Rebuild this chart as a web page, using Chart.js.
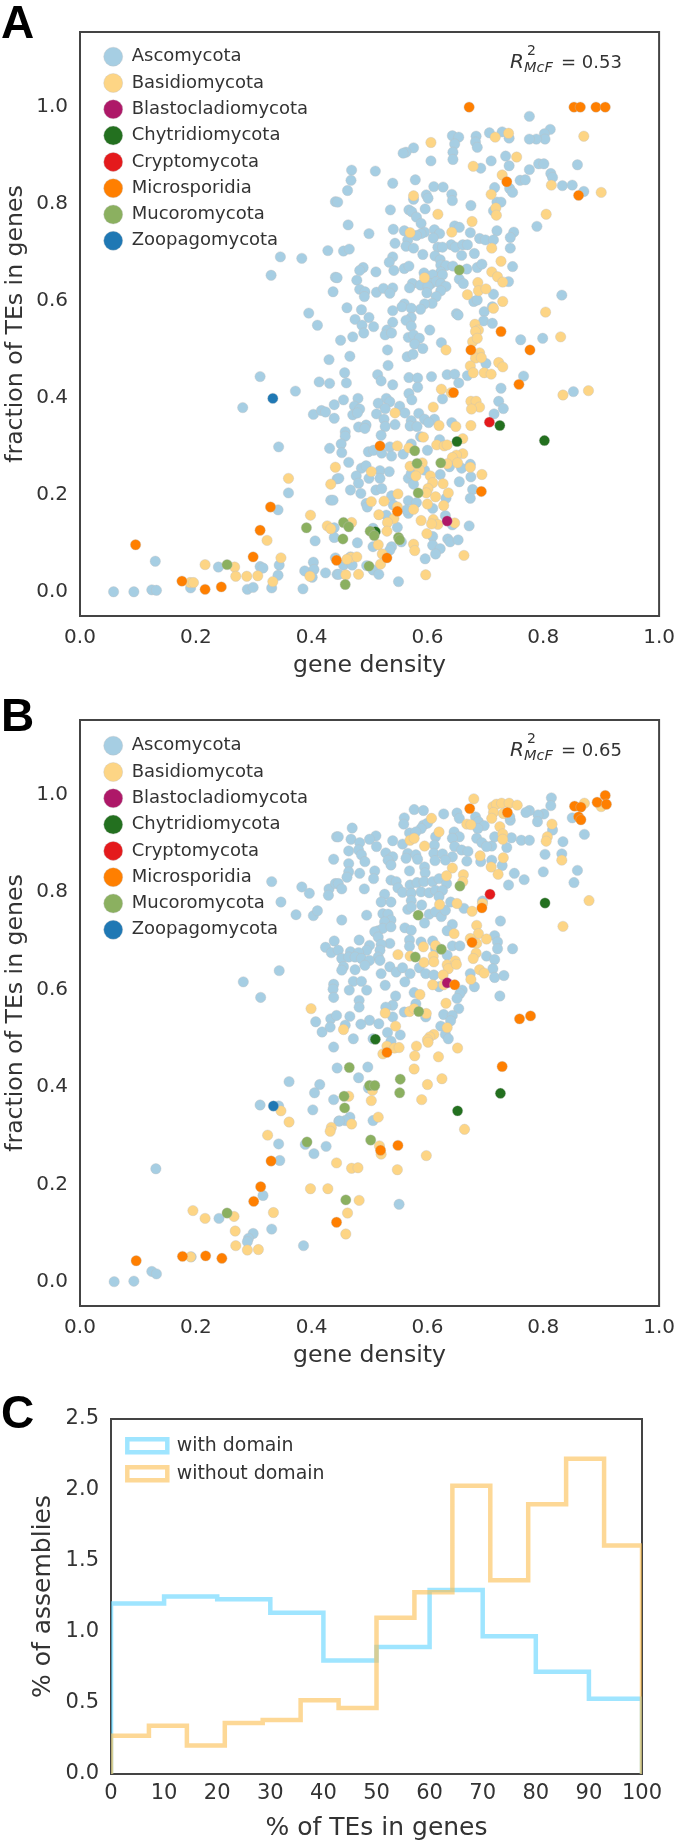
<!DOCTYPE html>
<html>
<head>
<meta charset="utf-8">
<title>TEs in genes</title>
<script src="https://cdn.jsdelivr.net/npm/chart.js@4"></script>
<style>
  html, body { margin: 0; padding: 0; background: #fff; }
  #page { position: relative; width: 685px; height: 1844px; overflow: hidden; font-family: 'DejaVu Sans', sans-serif; color: #333; }
  #page canvas { position: absolute; left: 0; }
  .letter { position: absolute; left: 1px; font: bold 46px/1 'Liberation Sans', Arial, sans-serif; color: #000; }
  .r2 { position: absolute; line-height: 1; white-space: nowrap; }
</style>
</head>
<body>
<div id="page">
  <canvas id="chA" style="top:0"></canvas>
  <canvas id="chB" style="top:690px"></canvas>
  <canvas id="chC" style="top:1380px"></canvas>

  <div class="letter" style="top:-1px">A</div>
  <div class="letter" style="top:692px">B</div>
  <div class="letter" style="top:1389px">C</div>

  <i class="r2" style="left:510px;top:51px;font-size:20px">R</i>
  <span class="r2" style="left:527px;top:43px;font-size:14px">2</span>
  <i class="r2" style="left:524px;top:60px;font-size:14.5px">McF</i>
  <span class="r2" style="left:561px;top:53px;font-size:18px">= 0.53</span>

  <i class="r2" style="left:510px;top:739px;font-size:20px">R</i>
  <span class="r2" style="left:527px;top:731px;font-size:14px">2</span>
  <i class="r2" style="left:524px;top:748px;font-size:14.5px">McF</i>
  <span class="r2" style="left:561px;top:741px;font-size:18px">= 0.65</span>
</div>
<script>
const phyla = ['Ascomycota','Basidiomycota','Blastocladiomycota','Chytridiomycota','Cryptomycota','Microsporidia','Mucoromycota','Zoopagomycota'];
const phylaColors = ['#a6cee3','#fdd585','#ae1868','#23701f','#e41a1c','#ff7f00','#8bb060','#1f78b4'];

const unitTicks = [0, 0.2, 0.4, 0.6, 0.8, 1.0];
const percentTicks = [0, 10, 20, 30, 40, 50, 60, 70, 80, 90, 100];
const assemblyTicks = [0, 0.5, 1.0, 1.5, 2.0, 2.5];

// panel A: [gene density, fraction of TEs in genes]
const ascoA = [[0.346,0.691],[0.383,0.688],[0.428,0.704],[0.330,0.653],[0.441,0.805],[0.441,0.649],[0.437,0.619],[0.395,0.575],[0.410,0.550],
[0.430,0.479],[0.311,0.444],[0.413,0.433],[0.431,0.430],[0.372,0.414],[0.281,0.380],[0.403,0.366],[0.417,0.374],[0.424,0.371],[0.439,0.386],[0.439,0.358],[0.343,0.299],[0.431,0.296],[0.444,0.233],[0.360,0.204],[0.433,0.189],[0.437,0.189],[0.342,0.169],[0.439,0.132],[0.439,0.112],[0.406,0.105],[0.130,0.063],[0.403,0.061],[0.441,0.070],[0.344,0.055],[0.311,0.052],[0.316,0.049],[0.239,0.051],[0.388,0.043],[0.404,0.046],[0.401,0.030],[0.342,0.034],[0.424,0.039],[0.444,0.036],[0.058,0.0],[0.093,0.0],[0.124,0.004],[0.132,0.003],[0.191,0.008],[0.289,0.005],[0.299,0.009],[0.331,0.008],[0.385,0.006],
[0.776,0.981],[0.812,0.954],[0.802,0.945],[0.803,0.934],[0.788,0.934],[0.776,0.934],[0.707,0.947],[0.729,0.949],[0.741,0.936],[0.684,0.940],[0.683,0.928],[0.686,0.917],[0.643,0.941],[0.654,0.938],[0.647,0.924],[0.644,0.907],[0.644,0.892],[0.576,0.916],[0.563,0.907],[0.558,0.905],[0.606,0.889],[0.735,0.899],[0.710,0.889],[0.741,0.879],[0.692,0.874],[0.792,0.883],[0.801,0.883],[0.859,0.881],[0.776,0.871],[0.813,0.863],[0.816,0.855],[0.760,0.849],[0.769,0.850],[0.833,0.838],[0.850,0.839],[0.870,0.826],[0.716,0.834],[0.742,0.832],[0.747,0.824],[0.469,0.870],[0.510,0.868],[0.468,0.849],[0.540,0.843],[0.579,0.850],[0.462,0.828],[0.445,0.804],[0.611,0.836],[0.627,0.835],[0.598,0.819],[0.601,0.812],[0.576,0.810],[0.642,0.820],[0.643,0.807],[0.675,0.797],[0.720,0.804],[0.727,0.804],[0.714,0.786],[0.536,0.788],[0.568,0.788],[0.573,0.784],[0.596,0.790],[0.581,0.773],[0.589,0.760],[0.463,0.757],[0.499,0.739],[0.541,0.748],[0.560,0.745],[0.789,0.754],[0.647,0.755],[0.655,0.752],[0.612,0.747],[0.621,0.739],[0.610,0.730],[0.595,0.742],[0.589,0.739],[0.581,0.735],[0.674,0.741],[0.720,0.745],[0.749,0.742],[0.743,0.731],[0.690,0.729],[0.700,0.726],[0.714,0.726],[0.743,0.709],[0.544,0.719],[0.566,0.726],[0.563,0.713],[0.576,0.709],[0.641,0.716],[0.648,0.711],[0.661,0.716],[0.669,0.716],[0.618,0.711],[0.626,0.711],[0.455,0.703],[0.465,0.707],[0.592,0.696],[0.681,0.698],[0.659,0.694],[0.613,0.693],[0.540,0.691],[0.534,0.680],[0.622,0.685],[0.623,0.674],[0.632,0.673],[0.644,0.672],[0.489,0.669],[0.483,0.663],[0.511,0.660],[0.542,0.663],[0.560,0.667],[0.568,0.672],[0.668,0.666],[0.686,0.669],[0.694,0.676],[0.747,0.671],[0.623,0.660],[0.594,0.658],[0.609,0.654],[0.626,0.654],[0.740,0.640],[0.444,0.648],[0.478,0.643],[0.574,0.636],[0.588,0.633],[0.569,0.627],[0.606,0.636],[0.615,0.640],[0.601,0.630],[0.623,0.636],[0.632,0.630],[0.655,0.645],[0.662,0.636],[0.483,0.624],[0.492,0.619],[0.491,0.609],[0.512,0.618],[0.524,0.626],[0.540,0.627],[0.535,0.616],[0.599,0.617],[0.623,0.621],[0.714,0.614],[0.832,0.612],[0.615,0.609],[0.608,0.595],[0.595,0.594],[0.588,0.583],[0.560,0.594],[0.556,0.588],[0.572,0.585],[0.461,0.586],[0.486,0.582],[0.680,0.599],[0.686,0.602],[0.540,0.580],[0.499,0.566],[0.475,0.562],[0.487,0.550],[0.507,0.547],[0.572,0.566],[0.563,0.560],[0.572,0.548],[0.540,0.556],[0.650,0.574],[0.653,0.571],[0.698,0.578],[0.712,0.588],[0.697,0.559],[0.712,0.554],[0.604,0.540],[0.530,0.540],
[0.450,0.519],[0.471,0.526],[0.490,0.534],[0.527,0.530],[0.538,0.534],[0.567,0.525],[0.576,0.530],[0.586,0.523],[0.578,0.511],[0.592,0.502],[0.531,0.499],[0.466,0.486],[0.565,0.485],[0.575,0.490],[0.624,0.514],[0.761,0.520],[0.799,0.523],[0.532,0.467],[0.701,0.471],[0.457,0.452],[0.514,0.448],[0.520,0.435],[0.460,0.431],[0.540,0.427],[0.568,0.442],[0.583,0.441],[0.607,0.444],[0.634,0.448],[0.647,0.449],[0.669,0.446],[0.654,0.431],[0.766,0.445],[0.583,0.422],[0.727,0.420],[0.568,0.409],[0.573,0.396],[0.626,0.398],[0.852,0.413],[0.480,0.399],[0.455,0.396],[0.529,0.399],[0.515,0.389],[0.535,0.392],[0.527,0.378],[0.474,0.383],[0.483,0.377],[0.471,0.365],[0.479,0.369],[0.512,0.367],[0.552,0.383],[0.561,0.369],[0.723,0.393],[0.731,0.378],[0.715,0.367],[0.585,0.368],[0.595,0.356],[0.572,0.353],[0.612,0.356],[0.602,0.349],[0.525,0.356],[0.544,0.345],[0.527,0.341],[0.570,0.342],[0.582,0.341],[0.642,0.349],[0.481,0.340],[0.494,0.344],[0.492,0.337],[0.520,0.323],[0.458,0.330],[0.458,0.321],[0.588,0.320],[0.621,0.314],[0.451,0.305],[0.452,0.287],[0.572,0.305],[0.498,0.289],[0.507,0.292],[0.521,0.286],[0.535,0.299],[0.538,0.280],[0.558,0.284],[0.600,0.292],[0.464,0.267],[0.486,0.255],[0.494,0.260],[0.518,0.250],[0.534,0.248],[0.477,0.239],[0.499,0.234],[0.518,0.234],[0.447,0.234],[0.481,0.224],[0.467,0.210],[0.485,0.203],[0.511,0.210],[0.521,0.213],[0.567,0.234],[0.576,0.222],[0.572,0.244],[0.595,0.251],[0.622,0.242],[0.638,0.258],[0.659,0.255],[0.674,0.263],[0.675,0.237],[0.655,0.227],[0.678,0.211],[0.674,0.193],[0.538,0.198],[0.494,0.182],[0.496,0.175],[0.541,0.179],[0.567,0.188],[0.581,0.184],[0.567,0.162],[0.564,0.169],[0.632,0.193],[0.609,0.172],[0.631,0.157],[0.529,0.158],[0.643,0.138],[0.672,0.136],[0.548,0.133],[0.506,0.131],[0.479,0.101],[0.506,0.093],[0.538,0.093],[0.535,0.086],[0.555,0.103],[0.609,0.114],[0.609,0.096],[0.635,0.109],[0.639,0.103],[0.653,0.107],[0.622,0.089],[0.614,0.078],[0.596,0.068],[0.467,0.072],[0.455,0.055],[0.470,0.055],[0.447,0.036],[0.495,0.054],[0.506,0.045],[0.516,0.036],[0.550,0.021]];
const basidioA = [[0.441,0.257],[0.360,0.234],[0.433,0.222],[0.398,0.158],[0.427,0.136],[0.433,0.130],[0.323,0.106],[0.347,0.070],[0.216,0.056],[0.267,0.051],[0.269,0.032],[0.288,0.032],[0.307,0.033],[0.397,0.032],[0.333,0.021],[0.190,0.019],[0.196,0.019],
[0.606,0.927],[0.717,0.938],[0.740,0.946],[0.870,0.940],[0.679,0.878],[0.754,0.897],[0.729,0.860],[0.814,0.839],[0.900,0.824],[0.576,0.817],[0.710,0.820],[0.718,0.792],[0.719,0.777],[0.618,0.779],[0.805,0.779],[0.677,0.764],[0.570,0.741],[0.642,0.742],[0.711,0.709],[0.727,0.682],[0.595,0.648],[0.711,0.660],[0.721,0.650],[0.730,0.639],[0.687,0.638],[0.688,0.621],[0.701,0.625],[0.669,0.613],[0.730,0.599],[0.714,0.585],[0.804,0.577],[0.682,0.552],[0.688,0.540],
[0.830,0.526],[0.632,0.499],[0.683,0.537],[0.678,0.516],[0.686,0.523],[0.690,0.493],[0.683,0.482],[0.693,0.483],[0.723,0.473],[0.730,0.464],[0.674,0.466],[0.679,0.452],[0.698,0.452],[0.710,0.449],[0.624,0.418],[0.641,0.411],[0.834,0.406],[0.878,0.415],[0.675,0.393],[0.684,0.393],[0.690,0.381],[0.676,0.377],[0.610,0.381],[0.544,0.369],[0.620,0.343],[0.649,0.341],[0.675,0.343],[0.593,0.319],[0.661,0.316],[0.616,0.303],[0.629,0.301],[0.634,0.303],[0.548,0.301],[0.568,0.297],[0.661,0.285],[0.650,0.282],[0.643,0.277],[0.652,0.266],[0.591,0.266],[0.570,0.259],[0.586,0.252],[0.634,0.264],[0.674,0.257],[0.694,0.242],[0.580,0.239],[0.605,0.239],[0.503,0.248],[0.609,0.225],[0.627,0.223],[0.601,0.213],[0.598,0.204],[0.636,0.204],[0.549,0.202],[0.614,0.196],[0.525,0.187],[0.503,0.186],[0.600,0.181],[0.628,0.178],[0.548,0.175],[0.576,0.170],[0.516,0.159],[0.542,0.151],[0.531,0.143],[0.589,0.147],[0.610,0.149],[0.618,0.139],[0.607,0.140],[0.647,0.142],[0.530,0.125],[0.599,0.120],[0.469,0.143],[0.515,0.097],[0.576,0.098],[0.578,0.085],[0.522,0.078],[0.663,0.075],[0.468,0.071],[0.478,0.072],[0.461,0.067],[0.519,0.057],[0.459,0.035],[0.481,0.036],[0.597,0.035]];
const blastoA = [[0.634,0.146]];
const chytridA = [[0.725,0.343],[0.802,0.312],[0.651,0.310],[0.510,0.124]];
const cryptoA = [[0.707,0.350]];
const microA = [[0.096,0.097],[0.329,0.175],[0.311,0.127],[0.299,0.072],[0.443,0.065],[0.176,0.022],[0.216,0.005],[0.244,0.010],[0.672,1.0],[0.853,1.0],[0.864,1.0],[0.891,1.0],[0.907,1.0],[0.737,0.846],[0.861,0.818],[0.727,0.537],[0.777,0.499],[0.675,0.499],[0.758,0.428],[0.645,0.411],[0.518,0.301],[0.693,0.207],[0.548,0.166],[0.530,0.070]];
const mucoA = [[0.254,0.056],[0.391,0.132],[0.655,0.664],[0.578,0.291],[0.582,0.265],[0.623,0.266],[0.584,0.204],[0.455,0.143],[0.464,0.134],[0.454,0.109],[0.501,0.125],[0.508,0.116],[0.550,0.112],[0.552,0.107],[0.499,0.053],[0.458,0.015]];
const zoopaA = [[0.333,0.399]];

// panel B
const ascoB = [[0.443,0.914],[0.438,0.868],[0.331,0.822],[0.383,0.811],[0.396,0.798],[0.430,0.807],[0.429,0.794],[0.441,0.818],[0.347,0.780],[0.373,0.754],[0.403,0.752],[0.410,0.762],[0.439,0.700],[0.424,0.687],[0.434,0.676],[0.344,0.639],[0.282,0.616],[0.312,0.584],[0.438,0.611],[0.437,0.601],[0.438,0.584],[0.407,0.534],[0.433,0.540],[0.443,0.547],
[0.418,0.513],[0.432,0.523],[0.438,0.482],[0.444,0.439],[0.361,0.411],[0.414,0.405],[0.405,0.388],[0.438,0.374],[0.311,0.363],[0.343,0.361],[0.402,0.353],[0.447,0.330],[0.343,0.283],[0.389,0.282],[0.425,0.278],[0.404,0.263],[0.345,0.249],[0.131,0.232],[0.316,0.177],[0.240,0.130],[0.331,0.108],[0.299,0.099],[0.291,0.089],[0.289,0.082],[0.386,0.074],[0.192,0.051],[0.124,0.021],[0.132,0.016],[0.059,0.0],[0.093,0.001],
[0.814,0.994],[0.813,0.978],[0.801,0.961],[0.791,0.959],[0.776,0.968],[0.770,0.964],[0.790,0.945],[0.743,0.948],[0.742,0.955],[0.850,0.953],[0.816,0.928],[0.871,0.919],[0.834,0.904],[0.803,0.878],[0.832,0.879],[0.800,0.842],[0.859,0.845],[0.853,0.820],[0.767,0.826],[0.750,0.839],[0.740,0.815],[0.729,0.855],[0.577,0.970],[0.593,0.968],[0.628,0.961],[0.651,0.963],[0.655,0.952],[0.560,0.953],[0.559,0.940],[0.683,0.955],[0.688,0.945],[0.698,0.937],[0.687,0.931],[0.593,0.938],[0.600,0.942],[0.589,0.931],[0.569,0.922],[0.580,0.924],[0.540,0.906],[0.511,0.916],[0.500,0.909],[0.470,0.932],[0.446,0.914],[0.468,0.909],[0.483,0.902],[0.512,0.894],[0.464,0.885],[0.481,0.887],[0.557,0.899],[0.614,0.914],[0.612,0.897],[0.646,0.924],[0.655,0.914],[0.643,0.911],[0.647,0.894],[0.659,0.887],[0.670,0.884],[0.685,0.911],[0.694,0.902],[0.711,0.895],[0.702,0.894],[0.716,0.914],[0.745,0.912],[0.762,0.907],[0.776,0.907],[0.737,0.892],[0.528,0.881],[0.540,0.873],[0.566,0.880],[0.580,0.877],[0.563,0.870],[0.583,0.868],[0.611,0.880],[0.626,0.879],[0.613,0.865],[0.643,0.873],[0.631,0.866],[0.668,0.864],[0.692,0.863],[0.711,0.866],[0.486,0.877],[0.492,0.863],[0.464,0.859],[0.532,0.866],[0.537,0.856],[0.569,0.844],[0.595,0.852],[0.596,0.840],[0.464,0.842],[0.461,0.831],[0.509,0.844],[0.483,0.839],[0.507,0.828],[0.537,0.825],[0.546,0.822],[0.446,0.818],[0.452,0.807],[0.570,0.815],[0.582,0.820],[0.594,0.822],[0.609,0.822],[0.620,0.828],[0.633,0.818],[0.549,0.809],[0.557,0.800],[0.572,0.798],[0.589,0.801],[0.603,0.799],[0.614,0.804],[0.626,0.804],[0.620,0.791],[0.491,0.807],[0.526,0.796],[0.520,0.780],[0.537,0.780],[0.572,0.783],[0.590,0.774],[0.566,0.765],[0.572,0.770],[0.603,0.755],[0.614,0.760],[0.624,0.750],[0.631,0.763],[0.640,0.780],[0.663,0.767],[0.695,0.782],[0.726,0.741],[0.495,0.753],[0.523,0.756],[0.532,0.755],[0.537,0.743],[0.526,0.739],[0.452,0.743],[0.595,0.737],[0.643,0.734],[0.634,0.721],[0.515,0.721],[0.523,0.726],[0.537,0.729],[0.509,0.719],[0.515,0.708],[0.561,0.727],[0.572,0.722],[0.482,0.702],[0.569,0.702],[0.569,0.689],[0.589,0.698],[0.609,0.700],[0.535,0.695],[0.520,0.693],[0.500,0.691],[0.495,0.681],[0.518,0.681],[0.467,0.678],[0.481,0.676],[0.446,0.681],[0.643,0.690],[0.656,0.690],[0.716,0.711],[0.721,0.698],[0.721,0.684],[0.747,0.684],[0.702,0.669],[0.716,0.662],[0.634,0.671],[0.614,0.684],[0.515,0.667],[0.452,0.664],[0.464,0.667],[0.475,0.667],[0.486,0.664],[0.500,0.660],[0.518,0.660],[0.455,0.647],[0.475,0.641],[0.492,0.650],[0.535,0.647],[0.546,0.636],[0.557,0.645],[0.520,0.633],[0.570,0.633],[0.586,0.645],[0.597,0.633],[0.611,0.630],[0.674,0.633],[0.713,0.643],[0.716,0.625],[0.732,0.629],[0.452,0.640],[0.472,0.617],[0.486,0.617],[0.527,0.609],[0.561,0.616],[0.681,0.606],[0.620,0.606],[0.660,0.599],[0.465,0.599],[0.495,0.599],[0.577,0.594],[0.656,0.592],[0.651,0.582],[0.725,0.587],[0.545,0.587],[0.540,0.568],[0.482,0.578],[0.482,0.564],[0.528,0.564],[0.560,0.554],[0.580,0.571],[0.654,0.561],[0.628,0.549],[0.643,0.547],[0.466,0.545],[0.500,0.537],[0.540,0.544],
[0.458,0.527],[0.485,0.529],[0.516,0.530],[0.597,0.544],[0.623,0.525],[0.640,0.536],[0.531,0.512],[0.553,0.507],[0.631,0.508],[0.636,0.499],[0.472,0.499],[0.506,0.499],[0.537,0.494],[0.497,0.441],[0.481,0.419],[0.498,0.398],[0.466,0.338],[0.458,0.331],[0.448,0.330],[0.506,0.331],[0.551,0.159]];
const basidioB = [[0.399,0.561],[0.347,0.351],[0.361,0.328],[0.434,0.317],[0.432,0.309],[0.324,0.301],[0.443,0.244],[0.398,0.191],[0.428,0.191],[0.195,0.146],[0.216,0.130],[0.266,0.134],[0.334,0.142],[0.268,0.104],[0.269,0.074],[0.289,0.065],[0.308,0.066],[0.191,0.051],
[0.680,0.992],[0.713,0.976],[0.719,0.981],[0.728,0.983],[0.741,0.983],[0.755,0.979],[0.714,0.964],[0.711,0.952],[0.731,0.962],[0.871,0.983],[0.900,0.976],[0.607,0.952],[0.668,0.940],[0.675,0.939],[0.815,0.940],[0.725,0.935],[0.730,0.920],[0.730,0.909],[0.620,0.924],[0.570,0.907],[0.577,0.911],[0.595,0.895],[0.807,0.914],[0.805,0.905],[0.691,0.875],[0.731,0.871],[0.832,0.866],[0.710,0.852],[0.722,0.837],[0.643,0.850],[0.633,0.834],[0.662,0.836],[0.661,0.822],[0.879,0.783],[0.621,0.775],[0.651,0.777],[0.695,0.777],[0.677,0.761],[0.834,0.730],[0.685,0.732],[0.688,0.715],[0.646,0.715],[0.674,0.705],[0.702,0.704],[0.685,0.695],[0.593,0.688],[0.614,0.691],[0.549,0.672],[0.570,0.669],[0.610,0.669],[0.684,0.675],[0.679,0.664],[0.594,0.656],[0.611,0.657],[0.634,0.651],[0.648,0.659],[0.636,0.643],[0.650,0.652],[0.690,0.641],[0.698,0.634],[0.627,0.630],[0.675,0.621],[0.609,0.610],[0.628,0.610],[0.587,0.590],[0.632,0.572],[0.527,0.552],[0.569,0.555],[0.577,0.561],[0.598,0.551],
[0.545,0.525],[0.455,0.518],[0.634,0.522],[0.611,0.508],[0.604,0.503],[0.600,0.497],[0.601,0.492],[0.581,0.484],[0.652,0.480],[0.530,0.484],[0.543,0.480],[0.551,0.481],[0.523,0.468],[0.578,0.464],[0.619,0.462],[0.577,0.437],[0.625,0.417],[0.600,0.405],[0.505,0.393],[0.464,0.381],[0.590,0.374],[0.503,0.372],[0.515,0.338],[0.469,0.324],[0.664,0.313],[0.517,0.279],[0.520,0.262],[0.598,0.259],[0.469,0.233],[0.480,0.234],[0.548,0.230],[0.482,0.167],[0.462,0.141],[0.459,0.098]];
const blastoB = [[0.634,0.614]];
const chytridB = [[0.803,0.778],[0.510,0.498],[0.726,0.387],[0.652,0.351]];
const cryptoB = [[0.708,0.796]];
const microB = [[0.330,0.248],[0.312,0.195],[0.300,0.165],[0.443,0.122],[0.097,0.043],[0.177,0.052],[0.217,0.053],[0.245,0.048],[0.673,0.972],[0.738,0.964],[0.854,0.977],[0.865,0.975],[0.893,0.985],[0.907,0.999],[0.909,0.981],[0.861,0.955],[0.865,0.949],[0.694,0.768],[0.677,0.697],[0.647,0.610],[0.759,0.540],[0.778,0.546],[0.530,0.471],[0.729,0.442],[0.549,0.280],[0.519,0.270]];
const mucoB = [[0.392,0.287],[0.254,0.141],[0.656,0.813],[0.584,0.753],[0.624,0.683],[0.579,0.667],[0.585,0.555],[0.465,0.440],[0.553,0.416],[0.552,0.388],[0.500,0.403],[0.509,0.403],[0.456,0.381],[0.457,0.357],[0.502,0.291],[0.459,0.168]];
const zoopaB = [[0.334,0.361]];

// panel C: step outlines
const domainEdges = [0,10,20,30,40,50,60,70,80,90,100];
const withDomain = [1.20,1.25,1.23,1.135,0.80,0.895,1.295,0.97,0.72,0.53];
const noDomainEdges = [0,7.14,14.29,21.43,28.57,35.71,42.86,50,57.14,64.29,71.43,78.57,85.71,92.86,100];
const withoutDomain = [0.27,0.34,0.20,0.36,0.38,0.52,0.465,1.10,1.28,2.03,1.365,1.90,2.22,1.61];

const ink = '#333';
Chart.defaults.font.family = "'DejaVu Sans', sans-serif";
Chart.defaults.color = ink;
Chart.defaults.animation = false;

// legend sits inside the plot, shifted away from the frame
function legendShift(dx, dy) {
  return {
    id: 'legendShift',
    afterLayout(chart) {
      chart.legend.left += dx;
      chart.legend.top += dy;
    }
  };
}

const frame = {
  id: 'frame',
  beforeDatasetsDraw(chart) {
    const a = chart.chartArea, ctx = chart.ctx;
    ctx.save();
    ctx.strokeStyle = '#444';
    ctx.lineWidth = 2;
    ctx.strokeRect(a.left, a.top, a.right - a.left, a.bottom - a.top);
    ctx.restore();
  }
};

function axis(o) {
  return {
    type: 'linear',
    min: o.min,
    max: o.max,
    grid: { display: false, drawTicks: false },
    border: { display: false },
    afterBuildTicks(scale) { scale.ticks = o.ticks.map(v => ({ value: v })); },
    afterFit(scale) {
      if (o.width) scale.width = o.width;
      if (o.height) scale.height = o.height;
    },
    ticks: {
      color: ink,
      padding: o.tickPad,
      autoSkip: false,
      maxRotation: 0,
      font: { size: o.tickSize },
      callback: o.format
    },
    title: {
      display: true,
      text: o.title,
      color: ink,
      font: { size: o.titleSize },
      padding: o.titlePad
    }
  };
}

function scatterChart(id, series, top, right, yMax, legendY) {
  const canvas = document.getElementById(id);
  canvas.width = 685;
  canvas.height = 680;
  return new Chart(canvas, {
    type: 'scatter',
    data: {
      datasets: phyla.map((name, i) => ({
        label: name,
        data: series[i],
        order: phyla.length - i,
        backgroundColor: phylaColors[i],
        borderColor: 'rgba(190,190,190,0.6)',
        borderWidth: 0.6,
        pointRadius: 5.2,
        clip: false
      }))
    },
    options: {
      responsive: false,
      layout: { padding: { top: top, right: right, left: 0, bottom: 0 } },
      scales: {
        x: axis({ min: 0, max: 1, ticks: unitTicks, height: 64, tickPad: 10, tickSize: 20,
          format: v => v.toFixed(1), title: 'gene density', titleSize: 23.6, titlePad: { top: 0, bottom: 0 } }),
        y: axis({ min: -0.05, max: yMax, ticks: unitTicks, width: 80, tickPad: 12, tickSize: 20,
          format: v => v.toFixed(1), title: 'fraction of TEs in genes', titleSize: 23.6, titlePad: { top: 2, bottom: 0 } })
      },
      plugins: {
        tooltip: { enabled: false },
        legend: {
          position: 'chartArea',
          align: 'start',
          labels: {
            usePointStyle: true,
            pointStyle: 'circle',
            pointStyleWidth: 19,
            boxHeight: 13.4,
            padding: 8.3,
            color: ink,
            font: { size: 18 },
            sort: (a, b) => a.datasetIndex - b.datasetIndex
          }
        }
      }
    },
    plugins: [legendShift(15.4, legendY), frame]
  });
}

scatterChart('chA', [ascoA, basidioA, blastoA, chytridA, cryptoA, microA, mucoA, zoopaA], 32, 20, 1.155, 39.4);
scatterChart('chB', [ascoB, basidioB, blastoB, chytridB, cryptoB, microB, mucoB, zoopaB], 30, 19, 1.154, 38.4);

// outline of a histogram, from the baseline up and back down
function outline(edges, heights) {
  const pts = [[edges[0], 0]];
  heights.forEach((h, i) => pts.push([edges[i], h]));
  pts.push([edges[edges.length - 1], heights[heights.length - 1]]);
  pts.push([edges[edges.length - 1], 0]);
  return pts;
}

const chC = document.getElementById('chC');
chC.width = 685;
chC.height = 464;
new Chart(chC, {
  type: 'scatter',
  data: {
    datasets: [
      { label: 'with domain', data: outline(domainEdges, withDomain), order: 2, showLine: true, stepped: 'before',
        borderColor: 'rgba(95,211,255,0.6)', backgroundColor: 'transparent', borderWidth: 4.5, pointRadius: 0, clip: 0 },
      { label: 'without domain', data: outline(noDomainEdges, withoutDomain), order: 1, showLine: true, stepped: 'before',
        borderColor: 'rgba(252,190,80,0.6)', backgroundColor: 'transparent', borderWidth: 4.5, pointRadius: 0, clip: 0 }
    ]
  },
  options: {
    responsive: false,
    layout: { padding: { top: 39, right: 43, left: 0, bottom: 0 } },
    scales: {
      x: axis({ min: 0, max: 100, ticks: percentTicks, height: 70, tickPad: 7, tickSize: 21,
        format: v => String(v), title: '% of TEs in genes', titleSize: 25, titlePad: { top: 0, bottom: 1 } }),
      y: axis({ min: 0, max: 2.5, ticks: assemblyTicks, width: 111, tickPad: 12, tickSize: 21,
        format: v => v.toFixed(1), title: '% of assemblies', titleSize: 25, titlePad: { top: 28, bottom: 0 } })
    },
    plugins: {
      tooltip: { enabled: false },
      legend: {
        position: 'chartArea',
        align: 'start',
        labels: {
          boxWidth: 40,
          boxHeight: 13,
          padding: 9.1,
          color: ink,
          font: { size: 18.9 },
          sort: (a, b) => a.datasetIndex - b.datasetIndex
        }
      }
    }
  },
  plugins: [legendShift(7.2, 47.2), frame]
});
</script>
</body>
</html>
